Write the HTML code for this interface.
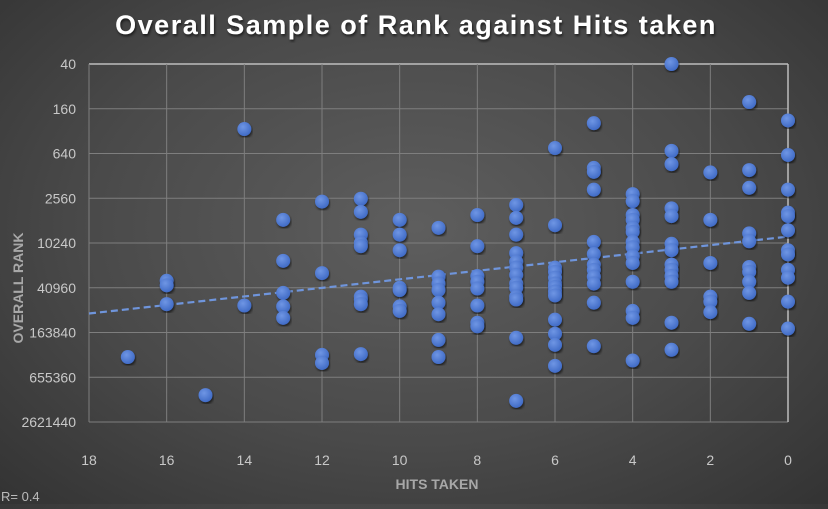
<!DOCTYPE html>
<html><head><meta charset="utf-8">
<style>
html,body{margin:0;padding:0}
body{width:828px;height:504px;overflow:hidden;background:radial-gradient(ellipse at 50% 45%,#5e5e5e 0%,#4a4a4a 55%,#333 100%);font-family:"Liberation Sans",sans-serif}
</style></head>
<body>
<svg id="chart" width="828" height="504" xmlns="http://www.w3.org/2000/svg">
<defs>
<radialGradient id="dotg" cx="40%" cy="35%" r="70%">
<stop offset="0%" stop-color="#6f96e4"/><stop offset="100%" stop-color="#3d68c4"/>
</radialGradient>
<filter id="sh"><feDropShadow dx="1" dy="2" stdDeviation="1.2" flood-color="#000" flood-opacity="0.6"/></filter>
</defs>
<text x="416" y="34" text-anchor="middle" font-size="27" font-weight="bold" fill="#fff" letter-spacing="1.5" filter="url(#sh)">Overall Sample of Rank against Hits taken</text>
<g id="grid"></g>
<g id="axes"></g>
<g id="trend"></g>
<g id="dots"></g>
<text x="437" y="489" text-anchor="middle" font-size="14" font-weight="bold" fill="#a8a8a8">HITS TAKEN</text>
<text transform="translate(23,288) rotate(-90)" text-anchor="middle" font-size="14" font-weight="bold" fill="#a8a8a8">OVERALL RANK</text>
<text x="1" y="501" font-size="13" fill="#bbb">R= 0.4</text>
</svg>
<script>
const xTicks=[18,16,14,12,10,8,6,4,2,0];
const yTicks=[40,160,640,2560,10240,40960,163840,655360,2621440];
const hits=[17,16,16,16,15,14,14,13,13,13,13,13,12,12,12,12,
11,11,11,11,11,11,11,11,11,10,10,10,10,10,10,10,
9,9,9,9,9,9,9,9,8,8,8,8,8,8,8,8,
7,7,7,7,7,7,7,7,7,7,7,7,7,
6,6,6,6,6,6,6,6,6,6,6,6,6,
5,5,5,5,5,5,5,5,5,5,5,5,
4,4,4,4,4,4,4,4,4,4,4,4,4,4,
3,3,3,3,3,3,3,3,3,3,3,3,3,
2,2,2,2,2,2,
1,1,1,1,1,1,1,1,1,1,
0,0,0,0,0,0,0,0,0,0,0,0];
const ranks=[350000,33000,38000,68000,1140000,300,71000,5000,17800,48000,73000,104000,2840,26000,328000,421000,
2600,3900,7900,10240,11300,54000,59000,68000,320000,5000,7900,12800,41000,44000,73000,84000,
6400,29000,36000,44000,65000,93000,206000,350000,4300,11300,28500,34000,42000,71000,121000,135000,
3150,4700,7900,14000,18300,22000,27500,36000,41000,54000,59000,193000,1360000,
540,5900,22000,25000,30000,36000,40000,46000,52000,110000,170000,240000,460000,
250,1000,1130,1960,9900,14400,20000,23500,29000,36000,65000,250000,
2250,2800,4300,5000,6400,7250,9900,11700,15400,19000,34000,84000,104000,390000,
40,590,890,3500,4450,10500,12800,20000,23500,28500,34000,121000,280000,
1150,5000,19000,54000,63000,87000,
130,1070,1850,7600,9700,21500,25000,34000,48000,125000,
230,670,1960,4000,4450,6900,12800,14600,23500,30000,63000,145000];
const trendHits=[18,0];
const trendRanks=[91000,8400];

const X0=89,X1=788,Y0=64,Y1=422;
const sx=h=>X0+(18-h)/18*(X1-X0);
const lg=v=>Math.log(v)/Math.log(4);
const sy=v=>Y0+(lg(v)-lg(40))/(lg(2621440)-lg(40))*(Y1-Y0);
const NS="http://www.w3.org/2000/svg";
function mk(tag,attrs,parent){const e=document.createElementNS(NS,tag);for(const k in attrs)e.setAttribute(k,attrs[k]);parent.appendChild(e);return e;}
const grid=document.getElementById('grid'),axes=document.getElementById('axes'),dots=document.getElementById('dots'),trend=document.getElementById('trend');
yTicks.forEach((t,i)=>{
 const y=sy(t);
 const l=mk('line',{x1:X0,x2:X1,y1:y,y2:y,stroke:i==0?'#bdbdbd':'#7e7e7e','stroke-width':i==0?1.5:1},grid);
 
 
 const tx=mk('text',{x:76,y:y+5,'text-anchor':'end','font-size':14,fill:'#c8c8c8'},axes);
 tx.textContent=t;
 
 
});
xTicks.forEach((t,i)=>{
 const x=sx(t);
 const l=mk('line',{x1:x,x2:x,y1:Y0,y2:Y1,stroke:t==0?'#bdbdbd':'#7e7e7e','stroke-width':t==0?1.5:1},grid);
 
 
 const tx=mk('text',{x:x,y:465,'text-anchor':'middle','font-size':14,fill:'#c8c8c8'},axes);
 tx.textContent=t;
 
 
});
const tl=mk('line',{x1:sx(trendHits[0]),y1:sy(trendRanks[0]),x2:sx(trendHits[1]),y2:sy(trendRanks[1]),stroke:'#6f95dc','stroke-width':2.2,'stroke-dasharray':'7,4'},trend);


hits.forEach((h,i)=>{
 const c=mk('circle',{cx:sx(h),cy:sy(ranks[i]),r:7,fill:'url(#dotg)',filter:'url(#sh)'},dots);
 
 
});
</script>
</body></html>
